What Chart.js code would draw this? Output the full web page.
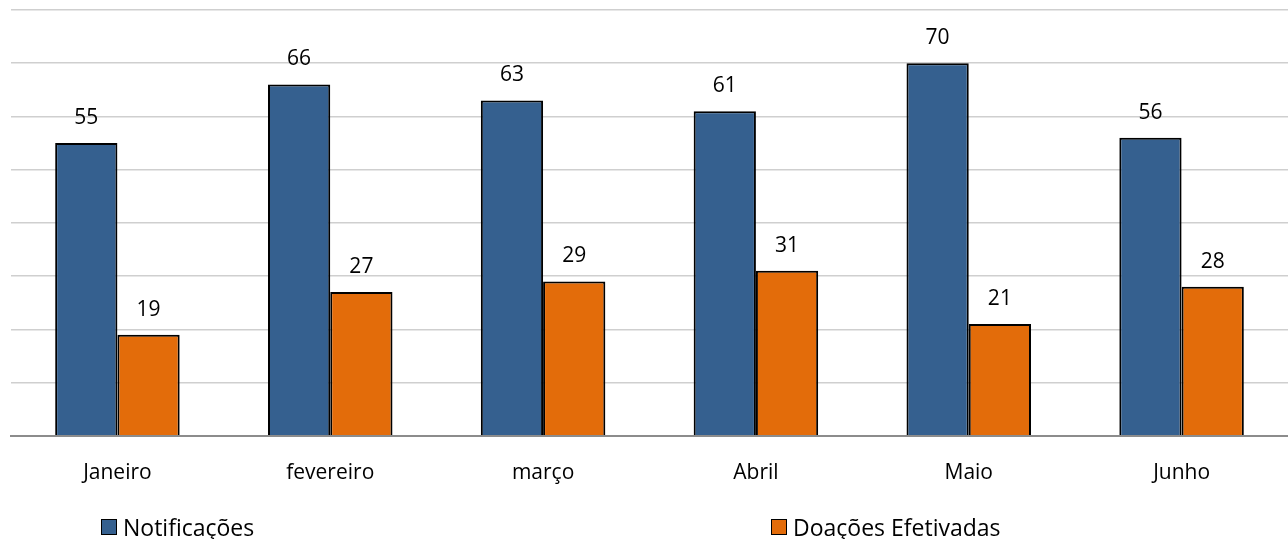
<!DOCTYPE html>
<html>
<head>
<meta charset="utf-8">
<script src="https://cdn.jsdelivr.net/npm/chart.js@4"></script>
<style>
  html, body { margin:0; padding:0; background:#fff; }
  #wrap { position:relative; width:1288px; height:539px; }
  #legend { position:absolute; left:0; top:511px; width:1288px; height:32px; font-family:"Open Sans", sans-serif; font-size:23px; color:#000; }
  .item { position:absolute; top:0; display:flex; align-items:center; white-space:nowrap; }
  .box { width:16px; height:16px; border:1.5px solid #000; margin-right:6px; box-sizing:border-box; }
</style>
</head>
<body>
<div id="wrap">
  <canvas id="c" width="1288" height="539"></canvas>
  <div id="legend"></div>
</div>
<script>
const categories = ["Janeiro", "fevereiro", "março", "Abril", "Maio", "Junho"];
const notificacoes = [55, 66, 63, 61, 70, 56];
const doacoes = [19, 27, 29, 31, 21, 28];
const seriesNames = ["Notificações", "Doações Efetivadas"];
const seriesColors = ["#35608F", "#E36C0A"];
const yTicks = [0, 10, 20, 30, 40, 50, 60, 70, 80];

const labelPlugin = {
  id: 'barLabels',
  afterDatasetsDraw(chart) {
    const ctx = chart.ctx;
    ctx.save();
    ctx.font = '21px "Open Sans", sans-serif';
    ctx.fillStyle = '#000';
    ctx.textAlign = 'center';
    ctx.textBaseline = 'middle';
    chart.data.datasets.forEach((ds, i) => {
      const meta = chart.getDatasetMeta(i);
      meta.data.forEach((bar, j) => {
        ctx.fillText(String(ds.data[j]), bar.x, bar.y - 25);
      });
    });
    ctx.restore();
  }
};

new Chart(document.getElementById('c'), {
  type: 'bar',
  data: {
    labels: categories,
    datasets: [
      { label: seriesNames[0], data: notificacoes, backgroundColor: seriesColors[0], borderColor: '#000', borderWidth: 2 },
      { label: seriesNames[1], data: doacoes, backgroundColor: seriesColors[1], borderColor: '#000', borderWidth: 2 }
    ]
  },
  options: {
    responsive: false,
    animation: false,
    devicePixelRatio: 1,
    layout: { padding: { left: 11, right: 0, top: 10, bottom: 36 } },
    datasets: { bar: { categoryPercentage: 0.585, barPercentage: 1.0 } },
    plugins: { legend: { display: false }, tooltip: { enabled: false } },
    scales: {
      x: {
        grid: { display: false },
        border: { display: true, color: '#8c8c8c', width: 2 },
        ticks: { color: '#000', font: { family: '"Open Sans", sans-serif', size: 21 }, padding: 17 }
      },
      y: {
        min: yTicks[0], max: yTicks[yTicks.length - 1],
        afterBuildTicks: (axis) => { axis.ticks = yTicks.map(v => ({ value: v })); },
        ticks: { display: false },
        border: { display: false },
        grid: { color: '#cfcfcf', lineWidth: 1.5, drawTicks: false }
      }
    }
  },
  plugins: [labelPlugin]
});

const leg = document.getElementById('legend');
const legendX = [101, 771];
seriesNames.forEach((n, i) => {
  const d = document.createElement('div');
  d.className = 'item';
  d.style.left = legendX[i] + 'px';
  d.innerHTML = '<span class="box" style="background:' + seriesColors[i] + '"></span><span>' + n + '</span>';
  leg.appendChild(d);
});
</script>
</body>
</html>
